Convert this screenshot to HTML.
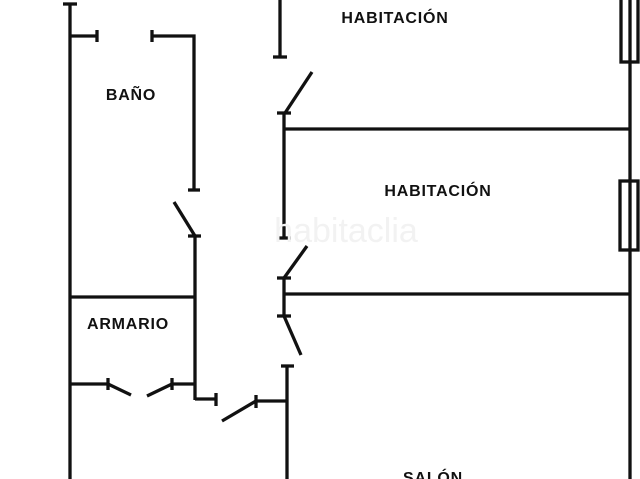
<!DOCTYPE html>
<html><head><meta charset="utf-8"><style>
html,body{margin:0;padding:0;background:#fff;width:640px;height:479px;overflow:hidden}
svg{display:block}
text{font-family:"Liberation Sans",sans-serif;font-size:16px;font-weight:bold;letter-spacing:0.8px;fill:#111;text-anchor:middle}
</style></head><body>
<svg width="640" height="479" viewBox="0 0 640 479" xmlns="http://www.w3.org/2000/svg">
<g stroke="#111" stroke-width="3.3" fill="none" stroke-linecap="butt">
<line x1="70" y1="3" x2="70" y2="479"/>
<line x1="63" y1="4" x2="77" y2="4"/>
<line x1="70" y1="36" x2="97" y2="36"/>
<line x1="97" y1="30" x2="97" y2="42"/>
<polyline points="152,36 194,36 194,190"/>
<line x1="152" y1="30" x2="152" y2="42"/>
<line x1="188" y1="190" x2="200" y2="190"/>
<line x1="174" y1="202" x2="195" y2="236"/>
<line x1="188" y1="236" x2="201" y2="236"/>
<line x1="195" y1="236" x2="195" y2="400"/>
<line x1="70" y1="297" x2="195" y2="297"/>
<line x1="70" y1="384" x2="108" y2="384"/>
<line x1="108" y1="378" x2="108" y2="390"/>
<line x1="108" y1="384" x2="131" y2="395"/>
<line x1="147" y1="396" x2="172" y2="384"/>
<line x1="172" y1="384" x2="195" y2="384"/>
<line x1="172" y1="378" x2="172" y2="390"/>
<polyline points="195,399 216,399"/>
<line x1="216" y1="393" x2="216" y2="406"/>
<line x1="222" y1="421" x2="256" y2="401"/>
<line x1="256" y1="401" x2="287" y2="401"/>
<line x1="256" y1="395" x2="256" y2="408"/>
<line x1="287" y1="366" x2="287" y2="479"/>
<line x1="281" y1="366" x2="294" y2="366"/>
<line x1="280" y1="0" x2="280" y2="57"/>
<line x1="273" y1="57" x2="287" y2="57"/>
<line x1="285" y1="113" x2="312" y2="72"/>
<line x1="277" y1="113" x2="291" y2="113"/>
<line x1="284" y1="113" x2="284" y2="238"/>
<line x1="277" y1="238" x2="291" y2="238"/>
<line x1="284" y1="129" x2="630" y2="129"/>
<line x1="284" y1="278" x2="307" y2="246"/>
<line x1="277" y1="278" x2="291" y2="278"/>
<line x1="284" y1="278" x2="284" y2="316"/>
<line x1="277" y1="316" x2="291" y2="316"/>
<line x1="284" y1="316" x2="301" y2="355"/>
<line x1="284" y1="294" x2="630" y2="294"/>
<line x1="630" y1="0" x2="630" y2="479"/>
<rect x="621" y="-2" width="17" height="64"/>
<rect x="620" y="181" width="18" height="69"/>
</g>
<text x="395" y="23">HABITACIÓN</text>
<text x="438" y="196">HABITACIÓN</text>
<text x="131" y="100">BAÑO</text>
<text x="128" y="329">ARMARIO</text>
<text x="433" y="483">SALÓN</text>
<text x="346" y="242" style="font-size:34px;font-weight:normal;letter-spacing:0;fill:#f2f2f2">habitaclia</text>
</svg>
</body></html>
